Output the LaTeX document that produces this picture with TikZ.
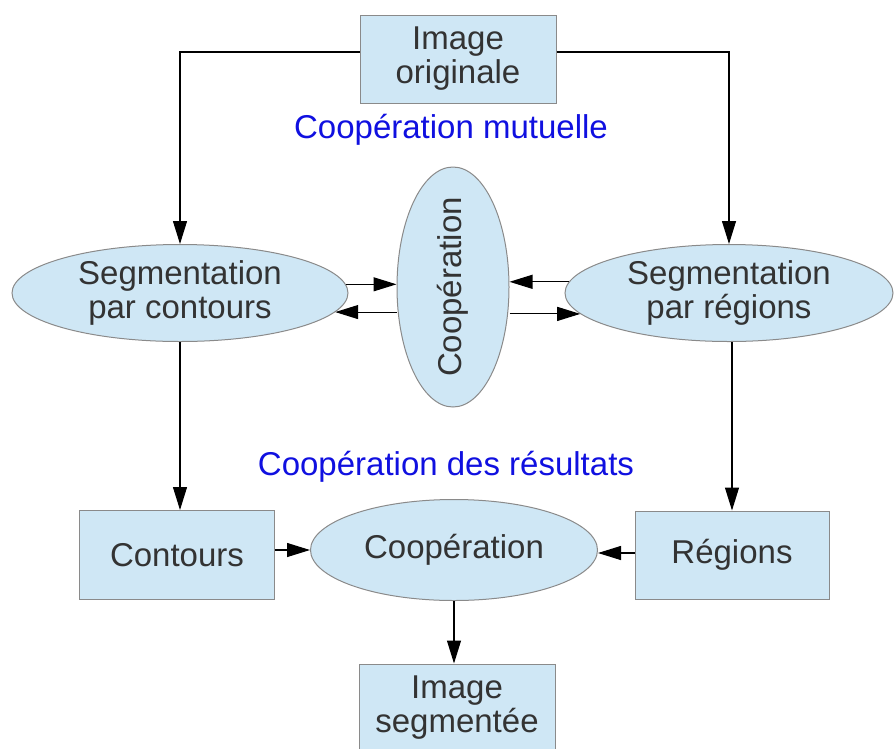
\documentclass[tikz,border=0pt]{standalone}
\usepackage{fontspec}
\setmainfont{Liberation Sans}
\usetikzlibrary{shapes.geometric,arrows.meta}
\definecolor{boxfill}{HTML}{CFE7F5}
\definecolor{boxline}{HTML}{8A8A8A}
\definecolor{txt}{HTML}{333333}
\definecolor{lbl}{HTML}{1010E0}
\tikzset{
  base/.style={draw=boxline, fill=boxfill, line width=1pt, text=txt, align=center,
    font=\fontsize{33}{34}\selectfont, inner sep=0pt},
  rbox/.style={base, rectangle, minimum width=196pt, minimum height=88pt},
  ell/.style={base, ellipse},
  arr/.style={draw=black, line width=1.1pt, -{Triangle[length=23pt,width=14pt]}},
  lab/.style={text=lbl, font=\fontsize{33}{34}\selectfont},
  vtxt/.style={text=txt, font=\fontsize{33}{34}\selectfont, rotate=90, inner sep=0pt}
}
\begin{document}
\begin{tikzpicture}[x=1pt,y=-1pt]
\useasboundingbox (0,0) rectangle (895,748);
\clip (0,0) rectangle (895,748);
\node[rbox] (T) at (458,59) {Image\\originale};
\node[lab] (lab1) at (451,130) {Coopération mutuelle};
\node[ell, minimum width=336pt, minimum height=97pt] (L) at (180,293) {Segmentation\\par contours};
\node[ell, minimum width=328pt, minimum height=97pt] (R) at (729,293) {Segmentation\\par régions};
\node[ell, minimum width=112pt, minimum height=240pt] (M) at (453,287) {};
\node[vtxt] (Mt) at (M.center) {Coopération};
\node[lab] (lab2) at (446,467) {Coopération des résultats};
\node[rbox, minimum width=195pt, minimum height=89pt] (C) at (177,555) {Contours};
\node[rbox, minimum width=194pt, minimum height=88pt] (G) at (732,555) {Régions};
\node[ell, minimum width=287pt, minimum height=101pt] (B) at (454,550) {Coopération};
\node[rbox] (S) at (457,708) {Image\\segmentée};

\draw[arr] ([yshift=7pt]T.west) -| (L.north);
\draw[arr] ([yshift=7pt]T.east) -| (R.north);
\draw[arr] (L.3.85) -- (L.3.85 -| M.west);
\draw[arr] (L.-7 -| M.west) -- (L.-7);
\draw[arr] (R.176) -- (R.176 -| M.east);
\draw[arr] (R.-172.8 -| M.east) -- (R.-172.8);
\draw[arr] (L.south) -- (L.south |- C.north);
\draw[arr] ([xshift=3pt]R.south) -- ([xshift=3pt]R.south |- G.north);
\draw[arr] (B.west -| C.east) -- (B.west);
\draw[arr] ([yshift=-3pt]B.east -| G.west) -- ([yshift=-3pt]B.east);
\draw[arr] (B.south) -- (B.south |- S.north);
\end{tikzpicture}
\end{document}
